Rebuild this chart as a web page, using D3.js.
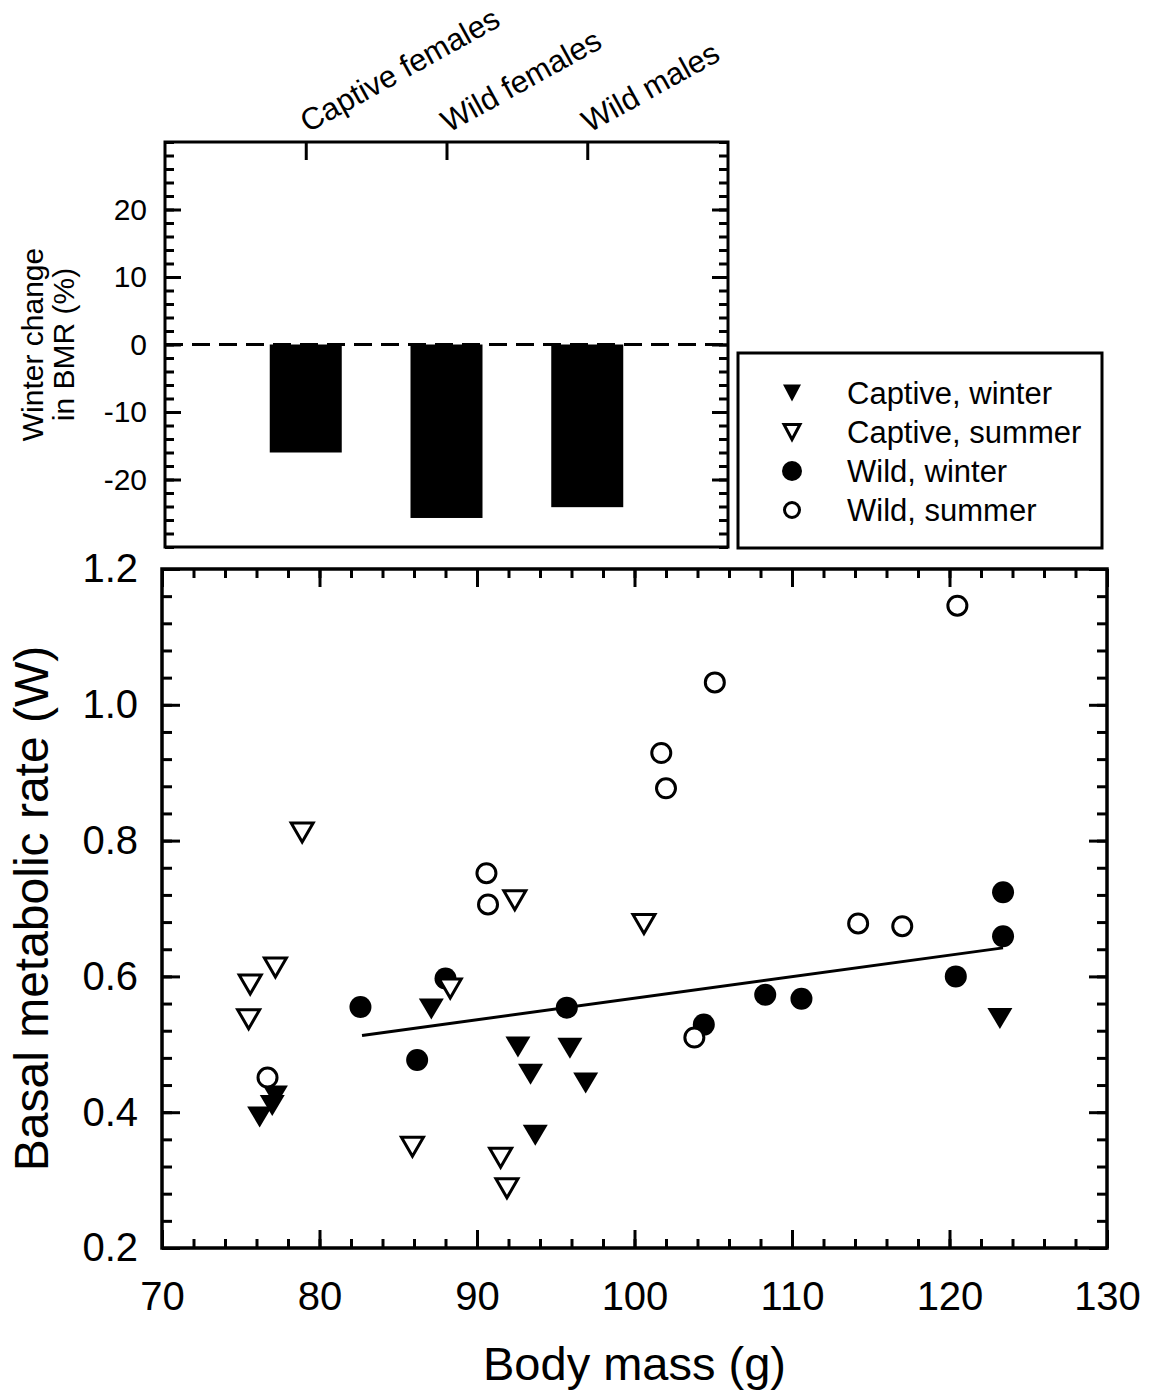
<!DOCTYPE html>
<html>
<head>
<meta charset="utf-8">
<script src="https://cdn.jsdelivr.net/npm/d3@7"></script>
<style>
  body { margin: 0; background: #fff; }
  svg { display: block; }
  text { font-family: "Liberation Sans", Arial, sans-serif; fill: #000; }
</style>
</head>
<body>
<div id="chart"></div>
<script>
// ---- top panel: winter change in BMR (%) ----
const groups = ["Captive females", "Wild females", "Wild males"];
const winterChange = [-16, -25.7, -24.1];
const pctTicks = [-20, -10, 0, 10, 20];

// ---- main panel: BMR vs body mass ----
const captiveWinterMass = [77.2, 77.0, 76.2, 87.1, 92.6, 95.9, 93.4, 96.9, 93.7, 123.2];
const captiveWinterBMR  = [0.424, 0.410, 0.393, 0.552, 0.496, 0.494, 0.456, 0.443, 0.366, 0.538];
const captiveSummerMass = [78.9, 92.4, 77.2, 75.6, 75.5, 88.3, 85.9, 91.5, 91.9, 100.6];
const captiveSummerBMR  = [0.812, 0.712, 0.613, 0.588, 0.537, 0.582, 0.349, 0.333, 0.288, 0.677];
const wildWinterMass = [82.6, 88.0, 86.2, 95.7, 104.4, 108.3, 110.6, 120.4, 123.4, 123.4];
const wildWinterBMR  = [0.555, 0.597, 0.477, 0.554, 0.529, 0.573, 0.567, 0.600, 0.724, 0.659];
const wildSummerMass = [90.6, 90.7, 120.5, 105.1, 101.7, 102.0, 114.2, 117.0, 76.7, 103.8];
const wildSummerBMR  = [0.752, 0.706, 1.146, 1.033, 0.929, 0.877, 0.678, 0.674, 0.451, 0.510];
// fitted line end points
const fitMass = [82.7, 123.4];
const fitBMR  = [0.513, 0.642];

const massTicks = d3.range(70, 131, 10);
const bmrTicks = [0.2, 0.4, 0.6, 0.8, 1.0, 1.2];

const legendLabels = ["Captive, winter", "Captive, summer", "Wild, winter", "Wild, summer"];
const legendShapes = ["triFill", "triOpen", "dotFill", "dotOpen"];

const svg = d3.select("#chart").append("svg")
  .attr("width", 1149)
  .attr("height", 1396);

// down-pointing triangle centred on its bounding box
function tri(w, h) {
  return `M${-w / 2},${-h / 2}L${w / 2},${-h / 2}L0,${h / 2}Z`;
}

function styleAxis(g, size) {
  g.select(".domain").remove();
  g.selectAll("line").attr("stroke", "#000").attr("stroke-width", 3);
  g.attr("font-size", size).attr("font-family", null);
}

// ================= top panel =================
const upper = { left: 165, right: 728, top: 142, bottom: 547 };

const xCat = d3.scalePoint()
  .domain(groups)
  .range([upper.left, upper.right])
  .padding(1);

const yPct = d3.scaleLinear()
  .domain([-30, 30])
  .range([upper.bottom, upper.top]);

// bars
svg.append("g").selectAll("rect")
  .data(groups)
  .enter().append("rect")
  .attr("x", d => xCat(d) - 36)
  .attr("width", 72)
  .attr("y", yPct(0))
  .attr("height", (d, i) => yPct(winterChange[i]) - yPct(0))
  .attr("fill", "#000");

// zero line
svg.append("line")
  .attr("x1", upper.left).attr("x2", upper.right)
  .attr("y1", yPct(0)).attr("y2", yPct(0))
  .attr("stroke", "#000")
  .attr("stroke-width", 3)
  .attr("stroke-dasharray", "18,9");

// left axis
svg.append("g")
  .attr("transform", `translate(${upper.left},0)`)
  .call(d3.axisLeft(yPct).tickValues(d3.range(-30, 31, 2)).tickSize(-9).tickFormat(""))
  .call(g => styleAxis(g, 30));
svg.append("g")
  .attr("transform", `translate(${upper.left},0)`)
  .call(d3.axisLeft(yPct).tickValues(pctTicks).tickSizeInner(-16).tickSizeOuter(0).tickPadding(18).tickFormat(d => String(d)))
  .call(g => styleAxis(g, 30));

// right axis
svg.append("g")
  .attr("transform", `translate(${upper.right},0)`)
  .call(d3.axisRight(yPct).tickValues(d3.range(-30, 31, 2)).tickSize(-9).tickFormat(""))
  .call(g => styleAxis(g, 30));
svg.append("g")
  .attr("transform", `translate(${upper.right},0)`)
  .call(d3.axisRight(yPct).tickValues(pctTicks).tickSize(-16).tickFormat(""))
  .call(g => styleAxis(g, 30));

// category ticks on top
svg.append("g")
  .attr("transform", `translate(0,${upper.top})`)
  .call(d3.axisTop(xCat).tickSize(-18).tickFormat(""))
  .call(g => styleAxis(g, 30));

svg.append("g").selectAll("text")
  .data(groups)
  .enter().append("text")
  .attr("transform", d => `translate(${xCat(d) + 2},133) rotate(-29)`)
  .attr("font-size", 31)
  .text(d => d);

svg.append("rect")
  .attr("x", upper.left).attr("y", upper.top)
  .attr("width", upper.right - upper.left)
  .attr("height", upper.bottom - upper.top)
  .attr("fill", "none")
  .attr("stroke", "#000")
  .attr("stroke-width", 3);

// y title, two lines
const pctTitle = svg.append("text")
  .attr("transform", `translate(0,${yPct(0)}) rotate(-90)`)
  .attr("text-anchor", "middle")
  .attr("font-size", 30);
pctTitle.append("tspan").attr("x", 0).attr("y", 43).text("Winter change");
pctTitle.append("tspan").attr("x", 0).attr("y", 74).text("in BMR (%)");

// ================= legend =================
const legend = svg.append("g");
legend.append("rect")
  .attr("x", 738).attr("y", 353)
  .attr("width", 364).attr("height", 195)
  .attr("fill", "#fff")
  .attr("stroke", "#000")
  .attr("stroke-width", 3);

const legendRow = legend.selectAll(".legend")
  .data(legendLabels)
  .enter().append("g")
  .attr("class", "legend")
  .attr("transform", (d, i) => `translate(792,${393 + i * 39})`);

legendRow.each(function(d, i) {
  const g = d3.select(this);
  const s = legendShapes[i];
  if (s === "triFill") g.append("path").attr("d", tri(18, 17)).attr("fill", "#000");
  if (s === "triOpen") g.append("path").attr("d", tri(16, 15)).attr("fill", "#fff").attr("stroke", "#000").attr("stroke-width", 3);
  if (s === "dotFill") g.append("circle").attr("r", 10).attr("fill", "#000");
  if (s === "dotOpen") g.append("circle").attr("r", 7.5).attr("fill", "#fff").attr("stroke", "#000").attr("stroke-width", 3);
});

legendRow.append("text")
  .attr("x", 55)
  .attr("dy", "0.35em")
  .attr("font-size", 31)
  .text(d => d);

// ================= main panel =================
const main = { left: 162, right: 1107, top: 569, bottom: 1248 };

const x = d3.scaleLinear().domain([70, 130]).range([main.left, main.right]);
const y = d3.scaleLinear().domain([0.2, 1.2]).range([main.bottom, main.top]);

// minor + major ticks on all four sides
const xMinor = d3.range(70, 131, 2);
const yMinor = d3.range(0, 26).map(i => 0.2 + i * 0.04);

svg.append("g").attr("transform", `translate(0,${main.bottom})`)
  .call(d3.axisBottom(x).tickValues(xMinor).tickSize(-9).tickFormat(""))
  .call(g => styleAxis(g, 40));
svg.append("g").attr("transform", `translate(0,${main.bottom})`)
  .call(d3.axisBottom(x).tickValues(massTicks).tickSizeInner(-18).tickSizeOuter(0).tickPadding(34).tickFormat(d3.format("d")))
  .call(g => styleAxis(g, 40));
svg.append("g").attr("transform", `translate(0,${main.top})`)
  .call(d3.axisTop(x).tickValues(xMinor).tickSize(-9).tickFormat(""))
  .call(g => styleAxis(g, 40));
svg.append("g").attr("transform", `translate(0,${main.top})`)
  .call(d3.axisTop(x).tickValues(massTicks).tickSize(-18).tickFormat(""))
  .call(g => styleAxis(g, 40));

svg.append("g").attr("transform", `translate(${main.left},0)`)
  .call(d3.axisLeft(y).tickValues(yMinor).tickSize(-10).tickFormat(""))
  .call(g => styleAxis(g, 40));
svg.append("g").attr("transform", `translate(${main.left},0)`)
  .call(d3.axisLeft(y).tickValues(bmrTicks).tickSizeInner(-18).tickSizeOuter(0).tickPadding(24).tickFormat(d3.format(".1f")))
  .call(g => styleAxis(g, 40));
svg.append("g").attr("transform", `translate(${main.right},0)`)
  .call(d3.axisRight(y).tickValues(yMinor).tickSize(-10).tickFormat(""))
  .call(g => styleAxis(g, 40));
svg.append("g").attr("transform", `translate(${main.right},0)`)
  .call(d3.axisRight(y).tickValues(bmrTicks).tickSize(-18).tickFormat(""))
  .call(g => styleAxis(g, 40));

svg.append("rect")
  .attr("x", main.left).attr("y", main.top)
  .attr("width", main.right - main.left)
  .attr("height", main.bottom - main.top)
  .attr("fill", "none")
  .attr("stroke", "#000")
  .attr("stroke-width", 3.5);

// fitted line
svg.append("path")
  .datum(fitMass)
  .attr("d", d3.line().x(d => x(d)).y((d, i) => y(fitBMR[i])))
  .attr("fill", "none")
  .attr("stroke", "#000")
  .attr("stroke-width", 3);

// wild winter (filled circles)
svg.append("g").selectAll("circle")
  .data(wildWinterMass)
  .enter().append("circle")
  .attr("cx", d => x(d))
  .attr("cy", (d, i) => y(wildWinterBMR[i]))
  .attr("r", 11)
  .attr("fill", "#000");

// captive winter (filled triangles)
svg.append("g").selectAll("path")
  .data(captiveWinterMass)
  .enter().append("path")
  .attr("transform", (d, i) => `translate(${x(d)},${y(captiveWinterBMR[i])})`)
  .attr("d", tri(25, 21))
  .attr("fill", "#000");

// captive summer (open triangles)
svg.append("g").selectAll("path")
  .data(captiveSummerMass)
  .enter().append("path")
  .attr("transform", (d, i) => `translate(${x(d)},${y(captiveSummerBMR[i])})`)
  .attr("d", tri(22, 19))
  .attr("fill", "#fff")
  .attr("stroke", "#000")
  .attr("stroke-width", 3);

// wild summer (open circles)
svg.append("g").selectAll("circle")
  .data(wildSummerMass)
  .enter().append("circle")
  .attr("cx", d => x(d))
  .attr("cy", (d, i) => y(wildSummerBMR[i]))
  .attr("r", 9.5)
  .attr("fill", "#fff")
  .attr("stroke", "#000")
  .attr("stroke-width", 3);

// axis titles
svg.append("text")
  .attr("x", (main.left + main.right) / 2)
  .attr("y", 1380)
  .attr("text-anchor", "middle")
  .attr("font-size", 47)
  .text("Body mass (g)");

svg.append("text")
  .attr("transform", "rotate(-90)")
  .attr("x", -(main.top + main.bottom) / 2)
  .attr("y", 48)
  .attr("text-anchor", "middle")
  .attr("font-size", 48)
  .text("Basal metabolic rate (W)");
</script>
</body>
</html>
